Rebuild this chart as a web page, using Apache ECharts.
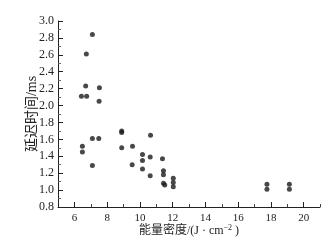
<!DOCTYPE html>
<html>
<head>
<meta charset="utf-8">
<script src="https://cdn.jsdelivr.net/npm/echarts@6/dist/echarts.min.js"></script>
<style>html,body{margin:0;padding:0;background:#fff;}#c{width:334px;height:248px;}</style>
</head>
<body>
<div id="c"></div>
<script>
// Energy density (J·cm^-2)
var energyDensity = [7.10, 6.73, 6.69, 7.53, 6.43, 6.75, 7.51, 6.49, 6.49, 7.10, 7.49, 7.10,
  8.89, 8.89, 10.65, 8.89, 9.55, 10.16, 10.16, 10.63, 11.38, 9.53, 10.16, 10.63,
  11.44, 11.44, 11.44, 11.52, 12.04, 12.04, 12.04, 17.76, 17.76, 19.13, 19.13];
// Delay time (ms)
var delayTime = [2.84, 2.61, 2.23, 2.21, 2.11, 2.11, 2.05, 1.52, 1.45, 1.61, 1.61, 1.29,
  1.70, 1.68, 1.65, 1.50, 1.52, 1.42, 1.35, 1.39, 1.37, 1.30, 1.25, 1.17,
  1.23, 1.18, 1.08, 1.06, 1.14, 1.09, 1.04, 1.07, 1.01, 1.07, 1.01];
var xMajorTicks = [6, 8, 10, 12, 14, 16, 18, 20];
var xMinorTicks = [7, 9, 11, 13, 15, 17, 19, 21];
var yTicks = [0.8, 1.0, 1.2, 1.4, 1.6, 1.8, 2.0, 2.2, 2.4, 2.6, 2.8, 3.0];

var pts = energyDensity.map(function (x, i) { return [x, delayTime[i]]; });
var serif = '"Liberation Serif", "Times New Roman", serif';
var cjk = '"Liberation Serif", "Noto Sans CJK SC", serif';
var chart = echarts.init(document.getElementById('c'), null, {renderer: 'canvas'});
chart.setOption({
  animation: false,
  backgroundColor: '#fff',
  grid: {left: 58, right: 14, top: 21, bottom: 41, outerBoundsMode: 'none'},
  xAxis: [{
    type: 'value', min: 5, max: 21, interval: 1,
    axisLine: {show: true, lineStyle: {color: '#222', width: 1}},
    axisTick: {show: true, inside: true, length: 5, customValues: xMajorTicks, lineStyle: {color: '#222'}},
    axisLabel: {customValues: xMajorTicks, color: '#222', fontFamily: serif, fontSize: 11, margin: 6},
    splitLine: {show: false},
    name: '能量密度/(J · cm{sup|−2} )', nameLocation: 'middle', nameGap: 17, nameMoveOverlap: false,
    nameTextStyle: {color: '#222', fontFamily: cjk, fontSize: 12, verticalAlign: 'top',
      rich: {sup: {fontSize: 8, verticalAlign: 'top', fontFamily: serif, color: '#222', padding: [0, 0, 5, 0]}}}
  }, {
    type: 'value', min: 5, max: 21, interval: 1, gridIndex: 0, position: 'bottom',
    axisLine: {show: false},
    axisTick: {show: true, inside: true, length: 3, customValues: xMinorTicks, lineStyle: {color: '#444'}},
    axisLabel: {show: false},
    splitLine: {show: false}
  }],
  yAxis: {
    type: 'value', min: 0.8, max: 3.0, interval: 0.2,
    axisLine: {show: true, lineStyle: {color: '#222', width: 1}},
    axisTick: {show: true, inside: true, length: 5, lineStyle: {color: '#222'}},
    minorTick: {show: true, splitNumber: 2, length: 3, lineStyle: {color: '#666'}},
    axisLabel: {color: '#222', fontFamily: serif, fontSize: 12, margin: 4,
      formatter: function (v) { return v.toFixed(1); }},
    splitLine: {show: false},
    name: '延迟时间/ms', nameLocation: 'middle', nameGap: 19, nameMoveOverlap: false,
    nameTextStyle: {color: '#222', fontFamily: cjk, fontSize: 14}
  },
  series: [{
    type: 'scatter', xAxisIndex: 0, data: pts, symbol: 'circle', symbolSize: 5,
    itemStyle: {color: '#1a1a1a'}
  }]
});
</script>
</body>
</html>
